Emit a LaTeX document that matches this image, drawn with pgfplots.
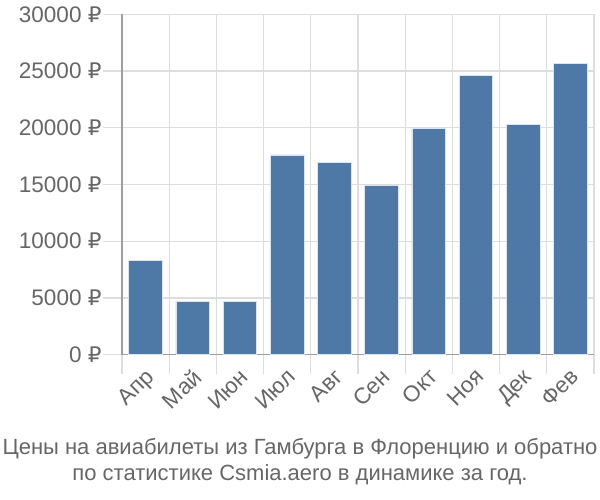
\documentclass[border=0pt]{standalone}
\usepackage{pgfplots}
\pgfplotsset{compat=1.18}
\usepackage{fontspec}
\setmainfont{Liberation Sans}
\newfontfamily\rubfont{DejaVu Sans}
\newcommand{\rub}{{\rubfont\fontsize{21.5}{24}\selectfont ₽}}
\definecolor{barc}{HTML}{4E79A7}
\definecolor{txt}{HTML}{666666}
\definecolor{gridc}{HTML}{DDDDDD}
\definecolor{axc}{HTML}{9E9E9E}
\begin{document}
\begin{tikzpicture}[x=1pt,y=1pt]
\path[use as bounding box] (-122pt,-145.3pt) rectangle (478pt,354.7pt);
\begin{axis}[
  at={(0,0)}, anchor=south west,
  scale only axis, width=472pt, height=340.4pt,
  xmin=-0.5, xmax=9.5, ymin=0, ymax=30000,
  scaled y ticks=false,
  axis lines*=left,
  axis line style={axc, line width=1.2pt},
  xtick={0,...,9},
  xticklabels={Апр,Май,Июн,Июл,Авг,Сен,Окт,Ноя,Дек,Фев},
  minor xtick={-0.5,0.5,...,9.5},
  xminorgrids=true,
  major x tick style={draw=none},
  minor x tick style={gridc, line width=1.2pt},
  minor tick length=19pt,
  ytick={0,5000,...,30000},
  yticklabels={0 \rub,5000 \rub,10000 \rub,15000 \rub,20000 \rub,25000 \rub,30000 \rub},
  ymajorgrids=true,
  major y tick style={gridc, line width=1.2pt},
  major tick length=19pt,
  tick align=outside,
  grid style={gridc, line width=1.2pt},
  tick label style={font=\fontsize{22.5}{26}\selectfont, text=txt},
  xticklabel style={rotate=45, anchor=north east, inner sep=1pt, xshift=4.6pt, yshift=6.7pt},
  yticklabel style={xshift=2pt},
  clip=false,
]
\addplot[ybar, bar width=33.7pt, fill=barc, draw=white!80!barc, line width=0.8pt] coordinates {
(0,8320) (1,4700) (2,4700) (3,17600) (4,16950) (5,14950) (6,19900) (7,24600) (8,20270) (9,25640)
};
\end{axis}
\node[text=txt, font=\fontsize{22}{26}\selectfont, align=center] at (178pt,-106.5pt)
  {Цены на авиабилеты из Гамбурга в Флоренцию и обратно\\по статистике Csmia.aero в динамике за год.};
\end{tikzpicture}
\end{document}
